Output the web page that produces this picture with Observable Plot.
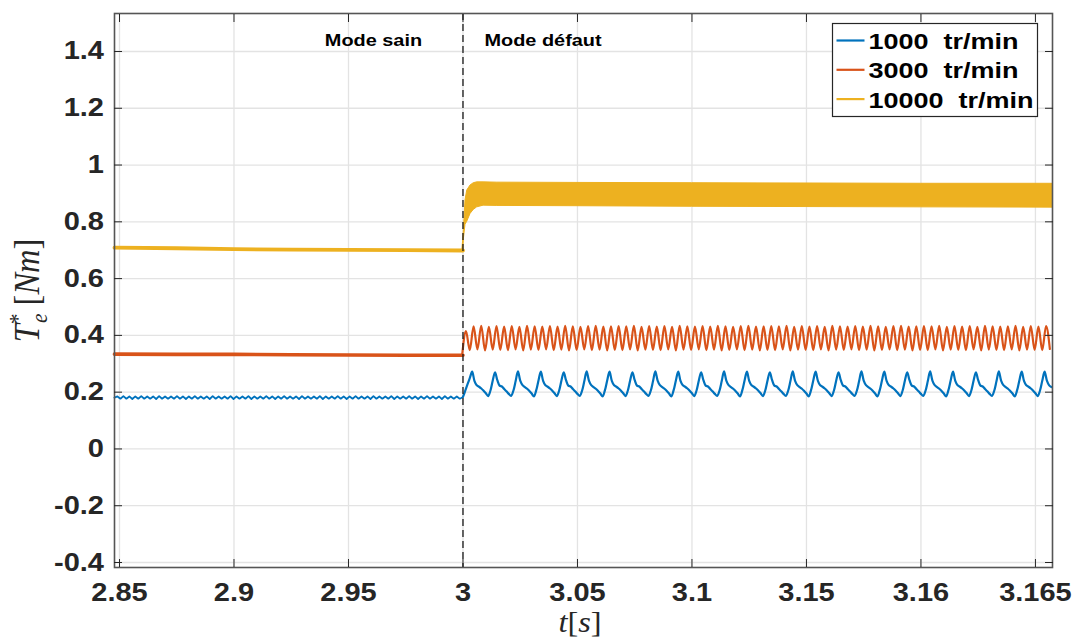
<!DOCTYPE html>
<html><head><meta charset="utf-8">
<script src="https://cdn.jsdelivr.net/npm/d3@7"></script>
<script src="https://cdn.jsdelivr.net/npm/@observablehq/plot@0.6"></script>
<style>
html,body{margin:0;padding:0;background:#fff;overflow:hidden}
#chart svg{display:block}
</style></head><body><div id="chart"></div>
<script>
// ---- axis tick labels (ticks are evenly spaced at positions 0..8) ----
const xTicks = [0,1,2,3,4,5,6,7,8];
const xTickLabels = ["2.85","2.9","2.95","3","3.05","3.1","3.15","3.16","3.165"];
const yTicks = [-0.4,-0.2,0,0.2,0.4,0.6,0.8,1,1.2,1.4];

// ---- series ----
const seriesNames = ["1000  tr/min","3000  tr/min","10000  tr/min"];
const seriesColors = ["#0072BD","#D95319","#EDB120"];
const faultTime = 3;

// annotations
const annotations = ["Mode sain","Mode défaut"];
const annotationT = [2.218, 3.188];
const annotationV = [1.438, 1.438];

// 1000 tr/min, healthy mode (sampled every 0.026 from -0.044)
const blueHealthyStart = -0.044, blueHealthyStep = 0.026;
const blueHealthy = [0.181,
0.185,0.177,0.186,0.177,0.185,0.176,0.185,0.177,0.186,0.177,0.185,0.177,0.185,0.176,0.186,0.177,0.185,0.177,0.185,0.177,
0.186,0.177,0.185,0.176,0.185,0.177,0.186,0.177,0.185,0.177,0.185,0.176,0.186,0.177,0.185,0.177,0.185,0.177,0.186,0.176,
0.185,0.177,0.185,0.177,0.186,0.176,0.185,0.177,0.185,0.177,0.186,0.177,0.185,0.176,0.185,0.177,0.186,0.177,0.185,0.177,
0.185,0.176,0.186,0.177,0.185,0.177,0.185,0.177,0.186,0.176,0.185,0.177,0.185,0.177,0.186,0.177,0.185,0.176,0.185,0.177,
0.186,0.177,0.185,0.177,0.185,0.176,0.186,0.177,0.185,0.177,0.185,0.177,0.186,0.176,0.185,0.177,0.185,0.177,0.186,0.177,
0.185,0.176,0.185,0.177,0.186,0.177,0.185,0.177,0.185,0.176,0.186,0.177,0.185,0.177,0.185,0.177,
0.182];

// 1000 tr/min, fault mode (sampled every 0.02 from 3)
const blueFaultStart = 3, blueFaultStep = 0.02;
const blueFault = [0.183,0.205,0.228,0.25,
0.272,0.240,0.224,0.219,0.213,0.205,0.196,0.186,0.206,0.241,
0.270,0.242,0.223,0.220,0.211,0.203,0.194,0.187,0.205,0.239,
0.273,0.241,0.225,0.218,0.212,0.204,0.195,0.185,0.207,0.242,
0.272,0.240,0.224,0.219,0.213,0.205,0.196,0.186,0.206,0.241,
0.270,0.242,0.223,0.220,0.211,0.203,0.194,0.187,0.205,0.239,
0.273,0.241,0.225,0.218,0.212,0.204,0.195,0.185,0.207,0.242,
0.272,0.240,0.224,0.219,0.213,0.205,0.196,0.186,0.206,0.241,
0.270,0.242,0.223,0.220,0.211,0.203,0.194,0.187,0.205,0.239,
0.273,0.241,0.225,0.218,0.212,0.204,0.195,0.185,0.207,0.242,
0.272,0.240,0.224,0.219,0.213,0.205,0.196,0.186,0.206,0.241,
0.270,0.242,0.223,0.220,0.211,0.203,0.194,0.187,0.205,0.239,
0.273,0.241,0.225,0.218,0.212,0.204,0.195,0.185,0.207,0.242,
0.272,0.240,0.224,0.219,0.213,0.205,0.196,0.186,0.206,0.241,
0.270,0.242,0.223,0.220,0.211,0.203,0.194,0.187,0.205,0.239,
0.273,0.241,0.225,0.218,0.212,0.204,0.195,0.185,0.207,0.242,
0.272,0.240,0.224,0.219,0.213,0.205,0.196,0.186,0.206,0.241,
0.270,0.242,0.223,0.220,0.211,0.203,0.194,0.187,0.205,0.239,
0.273,0.241,0.225,0.218,0.212,0.204,0.195,0.185,0.207,0.242,
0.272,0.240,0.224,0.219,0.213,0.205,0.196,0.186,0.206,0.241,
0.270,0.242,0.223,0.220,0.211,0.203,0.194,0.187,0.205,0.239,
0.273,0.241,0.225,0.218,0.212,0.204,0.195,0.185,0.207,0.242,
0.272,0.240,0.224,0.219,0.213,0.205,0.196,0.186,0.206,0.241,
0.270,0.242,0.223,0.220,0.211,0.203,0.194,0.187,0.205,0.239,
0.273,0.241,0.225,0.218,0.212,0.204,0.195,0.185,0.207,0.242,
0.272,0.240,0.224,0.219,0.213,0.205,0.196,0.186,0.206,0.241,
0.272,0.241,0.224,0.218];

// 3000 tr/min, healthy mode
const orangeHealthyT = [-0.044, 0.5, 1, 1.5, 2, 2.5, 3];
const orangeHealthy  = [0.334, 0.333, 0.333, 0.332, 0.331, 0.330, 0.330];

// 3000 tr/min, fault mode (sampled every 1/30 from 2.9927)
const orangeFaultStart = 2.9927, orangeFaultStep = 1/30;
const orangeFault = [0.330,0.415,
0.348,0.432,0.351,0.434,0.347,0.430,0.350,0.433,0.349,0.431,0.348,0.433,0.351,0.430,0.347,0.434,0.350,0.432,0.349,0.431,
0.351,0.433,0.348,0.431,0.350,0.434,0.347,0.432,0.349,0.430,0.351,0.433,0.348,0.434,0.350,0.431,0.347,0.432,0.349,0.433,
0.348,0.432,0.351,0.434,0.347,0.430,0.350,0.433,0.349,0.431,0.348,0.433,0.351,0.430,0.347,0.434,0.350,0.432,0.349,0.431,
0.351,0.433,0.348,0.431,0.350,0.434,0.347,0.432,0.349,0.430,0.351,0.433,0.348,0.434,0.350,0.431,0.347,0.432,0.349,0.433,
0.348,0.432,0.351,0.434,0.347,0.430,0.350,0.433,0.349,0.431,0.348,0.433,0.351,0.430,0.347,0.434,0.350,0.432,0.349,0.431,
0.351,0.433,0.348,0.431,0.350,0.434,0.347,0.432,0.349,0.430,0.351,0.433,0.348,0.434,0.350,0.431,0.347,0.432,0.349,0.433,
0.348,0.432,0.351,0.434,0.347,0.430,0.350,0.433,0.349,0.431,0.348,0.433,0.351,0.430,0.347,0.434,0.350,0.432,0.349,0.431,
0.348,0.432,0.351,0.434,0.347,0.430,0.350,0.433,0.349,0.431,0.348,0.433,
0.352];

// 10000 tr/min, healthy mode
const yellowHealthyT = [-0.044, 0.5, 1, 1.5, 2, 2.5, 3];
const yellowHealthy  = [0.709, 0.707, 0.704, 0.702, 0.701, 0.700, 0.699];

// 10000 tr/min, fault mode: envelope of the fast oscillation
const yellowBandT  = [2.995, 3.003, 3.008, 3.022, 3.037, 3.066, 3.094, 3.124, 3.18, 3.3, 4, 5, 6, 7, 8.149];
const yellowBandLo = [0.697, 0.700, 0.740, 0.790, 0.800, 0.828, 0.842, 0.851, 0.857, 0.856, 0.855, 0.853, 0.852, 0.851, 0.850];
const yellowBandHi = [0.703, 0.740, 0.770, 0.875, 0.910, 0.928, 0.936, 0.939, 0.939, 0.938, 0.937, 0.936, 0.935, 0.934, 0.934];

// ---- build tables ----
const sampled = (vals, start, step) => vals.map((v, i) => ({t: start + i * step, v}));
const paired = (ts, vs) => ts.map((t, i) => ({t, v: vs[i]}));
const blueH = sampled(blueHealthy, blueHealthyStart, blueHealthyStep);
const blueF = sampled(blueFault, blueFaultStart, blueFaultStep);
const orangeH = paired(orangeHealthyT, orangeHealthy);
const orangeF = sampled(orangeFault, orangeFaultStart, orangeFaultStep);
const yellowH = paired(yellowHealthyT, yellowHealthy);
const yellowB = yellowBandT.map((t, i) => ({t, lo: yellowBandLo[i], hi: yellowBandHi[i]}));

const fmtY = d => String(+d.toFixed(1));
const tickFont = {fontSize: 25, fontWeight: "bold", fill: "#262626"};

const chart = Plot.plot({
  width: 1075, height: 637,
  marginLeft: 114, marginRight: 23, marginTop: 13, marginBottom: 70,
  x: {domain: [-0.0437, 8.149]},
  y: {domain: [-0.4176, 1.5338]},
  style: {background: "#fff", color: "#262626", fontFamily: "'Liberation Sans', Arial, sans-serif"},
  marks: [
    Plot.gridX(xTicks, {stroke: "#e3e3e3", strokeOpacity: 1, strokeWidth: 1.3}),
    Plot.gridY(yTicks, {stroke: "#e3e3e3", strokeOpacity: 1, strokeWidth: 1.3}),
    Plot.line(blueH, {x: "t", y: "v", stroke: seriesColors[0], strokeWidth: 1.8}),
    Plot.line(blueF, {x: "t", y: "v", stroke: seriesColors[0], strokeWidth: 2.2, curve: "catmull-rom"}),
    Plot.line(orangeH, {x: "t", y: "v", stroke: seriesColors[1], strokeWidth: 3.6}),
    Plot.line(orangeF, {x: "t", y: "v", stroke: seriesColors[1], strokeWidth: 2.2, curve: "monotone-x"}),
    Plot.line(yellowH, {x: "t", y: "v", stroke: seriesColors[2], strokeWidth: 3.8}),
    Plot.areaY(yellowB, {x: "t", y1: "lo", y2: "hi", fill: seriesColors[2], stroke: seriesColors[2], strokeWidth: 1}),
    Plot.ruleX([faultTime], {stroke: "#1a1a1a", strokeWidth: 1.3, strokeDasharray: "7,4"}),
    Plot.text([0], {x: i => annotationT[i], y: i => annotationV[i], text: i => annotations[i], textAnchor: "middle", lineAnchor: "middle", fontSize: 17, fontWeight: "bold", fill: "#000"}),
    Plot.text([1], {x: i => annotationT[i], y: i => annotationV[i], text: i => annotations[i], textAnchor: "start", lineAnchor: "middle", fontSize: 17, fontWeight: "bold", fill: "#000"}),
    Plot.frame({stroke: "#555", strokeWidth: 1.6}),
    Plot.axisX(xTicks, {anchor: "bottom", tickSize: 0, tickPadding: 16, tickFormat: i => xTickLabels[i], label: null, ...tickFont}),
    Plot.axisX(xTicks, {anchor: "bottom", tickSize: -8, tickFormat: () => "", label: null}),
    Plot.axisX(xTicks, {anchor: "top", tickSize: -8, tickFormat: () => "", label: null}),
    Plot.axisY(yTicks, {anchor: "left", tickSize: 0, tickPadding: 10.5, tickFormat: fmtY, label: null, ...tickFont}),
    Plot.axisY(yTicks, {anchor: "left", tickSize: -8, tickFormat: () => "", label: null}),
    Plot.axisY(yTicks, {anchor: "right", tickSize: -8, tickFormat: () => "", label: null})
  ]
});
document.getElementById("chart").appendChild(chart);

// ---- horizontal stretch of bold texts (reference is rendered wider) ----
function stretch(el, s) {
  const t = el.getAttribute("transform");
  if (t) el.setAttribute("transform", t + ` scale(${s},1)`);
  else {
    const x = +el.getAttribute("x") || 0, y = +el.getAttribute("y") || 0;
    el.setAttribute("x", 0); el.setAttribute("y", 0);
    el.setAttribute("transform", `translate(${x},${y}) scale(${s},1)`);
  }
}
const svg = d3.select(chart);
svg.selectAll("g[aria-label$='tick label'] text").each(function() { stretch(this, 1.16); });
svg.selectAll("g[aria-label='text'] text").each(function() { stretch(this, 1.17); });

// ---- legend ----
const lg = svg.append("g").attr("font-family", "'Liberation Sans', Arial, sans-serif").attr("text-anchor", "start");
lg.append("rect").attr("x", 832.5).attr("y", 23.5).attr("width", 205).attr("height", 93)
  .attr("fill", "#fff").attr("stroke", "#262626").attr("stroke-width", 1.2);
seriesNames.forEach((name, i) => {
  const cy = 40.5 + i * 29.3;
  lg.append("line").attr("x1", 836.5).attr("x2", 864.5).attr("y1", cy).attr("y2", cy)
    .attr("stroke", seriesColors[i]).attr("stroke-width", 2.2);
  lg.append("text").attr("transform", `translate(868.5,${cy + 8.4}) scale(1.2,1)`)
    .attr("text-anchor", "start")
    .attr("font-size", 22.5).attr("font-weight", "bold").attr("fill", "#000")
    .style("white-space", "pre").text(name);
});

// ---- axis titles ----
const yl = svg.append("text").attr("transform", "translate(39,290.5) rotate(-90) scale(1.08,1.16)")
  .attr("text-anchor", "middle").attr("font-family", "'Liberation Serif', 'DejaVu Serif', serif")
  .attr("font-size", 30).attr("fill", "#262626");
yl.append("tspan").attr("font-style", "italic").text("T");
yl.append("tspan").attr("font-size", 20).attr("dy", -12).text("*");
yl.append("tspan").attr("font-style", "italic").attr("font-size", 20).attr("dx", -9).attr("dy", 19).text("e");
yl.append("tspan").attr("dy", -7).style("white-space", "pre").text(" [");
yl.append("tspan").attr("font-style", "italic").text("Nm");
yl.append("tspan").text("]");

const xl = svg.append("text").attr("transform", "translate(580,631.5) scale(1.08,1)")
  .attr("text-anchor", "middle").attr("font-family", "'Liberation Serif', 'DejaVu Serif', serif")
  .attr("font-size", 30).attr("fill", "#262626");
xl.append("tspan").attr("font-style", "italic").text("t");
xl.append("tspan").text("[");
xl.append("tspan").attr("font-style", "italic").text("s");
xl.append("tspan").text("]");
</script>
</body></html>
